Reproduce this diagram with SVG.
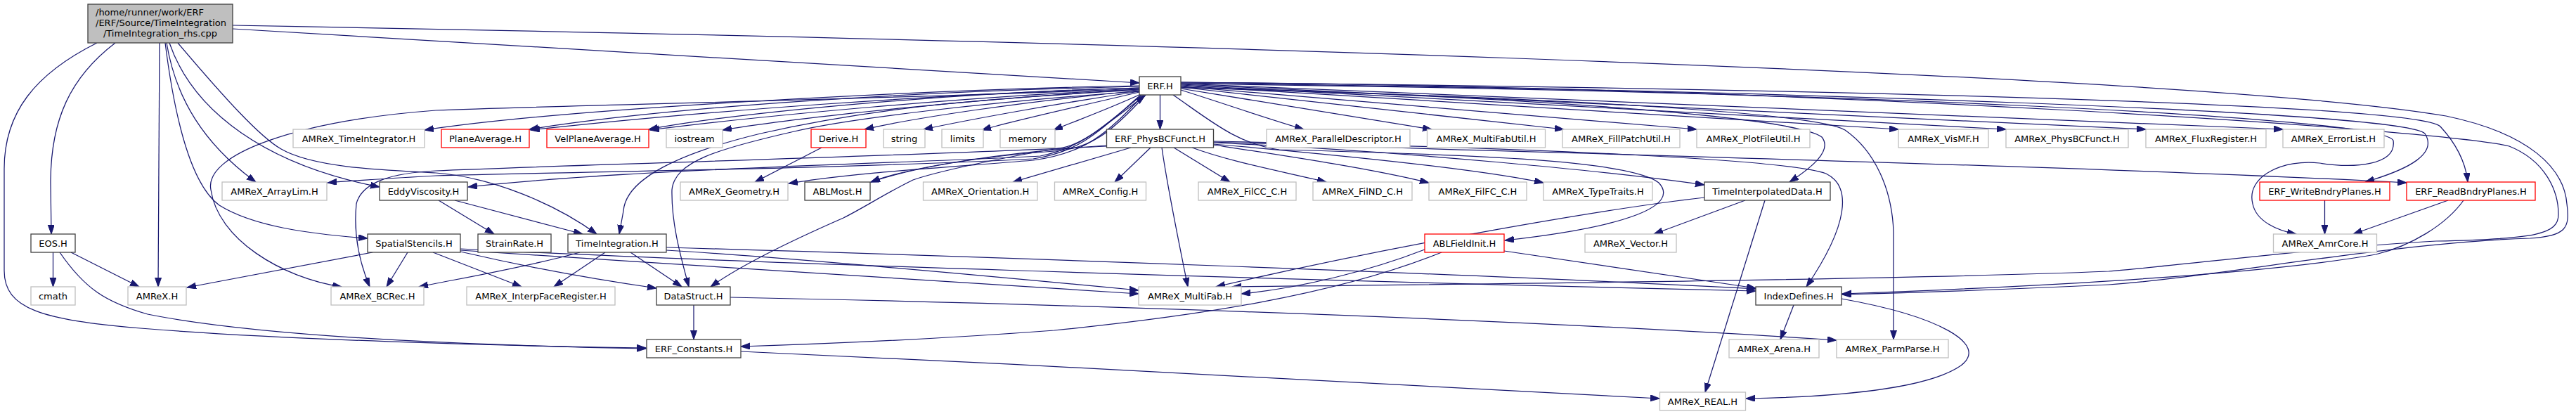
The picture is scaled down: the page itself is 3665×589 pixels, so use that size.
<svg xmlns="http://www.w3.org/2000/svg" width="3665" height="589" viewBox="0 0 3665 589">
<defs>
<style>
.n rect{fill:#ffffff;stroke-width:1.3}
.g rect{stroke:#bfbfbf}
.b rect{stroke:#404040}
.r rect{stroke:#ff0000}
text{font-family:"DejaVu Sans","Liberation Sans",sans-serif;font-size:13px;fill:#000;text-anchor:middle}
#edges path{fill:none;stroke:#191970;stroke-width:1.25;marker-end:url(#ah)}
</style>
<marker id="ah" viewBox="0 0 14 10" markerWidth="14" markerHeight="10" refX="13" refY="4.5" orient="auto" markerUnits="userSpaceOnUse"><path d="M0,0 L13,4.5 L0,9 Z" fill="#191970" stroke="#191970" stroke-width="1"/></marker>
<marker id="ah2" viewBox="0 0 14 10" markerWidth="14" markerHeight="10" refX="13" refY="4.5" orient="auto-start-reverse" markerUnits="userSpaceOnUse"><path d="M0,0 L13,4.5 L0,9 Z" fill="#191970" stroke="#191970" stroke-width="1"/></marker>
</defs>
<rect width="3665" height="589" fill="#ffffff"/>
<g id="edges">
<path d="M331,41 L1621,118"/>
<path d="M331,36 C1400,55 3100,100 3480,165 C3600,190 3648,240 3652,290 C3657,325 3650,336 3600,339 C3400,345 3150,395 3000,405 C2850,412 2700,417 2621,419"/>
<path d="M164,61 C100,110 72,170 72,260 L73,333"/>
<path d="M138,61 C50,105 6,160 6,240 L6,385 C6,440 60,455 200,467 C400,483 700,492 919,495"/>
<path d="M227,61 L225,408"/>
<path d="M237,61 C250,140 290,205 364,259"/>
<path d="M241,61 C275,160 380,235 540,266"/>
<path d="M235,61 C250,180 275,265 312,292 C360,322 440,333 523,339"/>
<path d="M253,61 C320,140 370,195 400,212 C445,238 540,242 620,246 C700,252 790,290 849,333"/>
<path d="M1621,122 C1300,128 800,155 604,185"/>
<path d="M1621,123 C1300,130 950,152 753,184"/>
<path d="M1621,125 C1330,134 1000,158 755,185"/>
<path d="M1621,125 C1350,132 1050,160 923,184"/>
<path d="M1621,127 C1380,137 1080,165 925,185"/>
<path d="M1621,127 C1400,140 1150,165 1028,185"/>
<path d="M1621,129 C1450,145 1300,168 1230,184"/>
<path d="M1621,130 C1500,148 1380,170 1314,184"/>
<path d="M1621,131 C1520,155 1440,172 1397,185"/>
<path d="M1623,134 C1570,158 1530,172 1499,185"/>
<path d="M1650.5,135 L1650.5,184"/>
<path d="M1680,128 C1750,150 1800,168 1855,184"/>
<path d="M1680,126 L2037,184"/>
<path d="M1680,124 L2225,184"/>
<path d="M1680,123 L2414,184"/>
<path d="M1680,122 L2701,184"/>
<path d="M1680,121 L2854,184"/>
<path d="M1680,120 L3053,184"/>
<path d="M1680,119 L3248,184"/>
<path d="M1680,118 C2500,128 3420,158 3450,190 C3468,218 3430,240 3365,259"/>
<path d="M1680,117 C2600,126 3440,148 3472,180 C3495,205 3508,230 3511,259"/>
<path d="M1680,119 C2600,130 3390,165 3405,200 C3410,235 3350,240 3300,232 C3250,226 3195,250 3205,290 C3210,315 3240,328 3267,333"/>
<path d="M1680,117 C2600,124 3480,185 3570,208 C3620,228 3640,270 3640,305 C3640,333 3610,340 3466,343 C3300,352 3100,378 3000,386 C2700,398 2100,404 1753,408"/>
<path d="M1680,124 C2200,138 2560,168 2592,195 C2608,215 2575,240 2546,259"/>
<path d="M1680,125 C2200,138 2585,160 2625,185 C2668,215 2692,270 2694,330 L2694,483"/>
<path d="M1669,135 C1720,170 1760,205 1820,213 C2100,220 2320,228 2360,260 C2390,292 2320,322 2141,342"/>
<path d="M1621,128 C1400,140 1250,152 1082,190 C950,222 890,260 887,300 L881,333"/>
<path d="M1621,130 C1400,145 1200,170 1130,187 C1020,212 960,230 956,270 C955,320 970,370 980,408"/>
<path d="M1621,126 C1300,140 800,150 620,157 C420,172 290,220 300,270 C310,340 400,395 486,408"/>
<path d="M1625,135 C1570,180 1540,210 1480,222 C1300,232 900,240 666,266"/>
<path d="M1623,135 C1565,185 1540,215 1470,226 C1200,240 800,245 620,250 C550,254 500,257 466,260"/>
<path d="M1627,135 C1575,190 1545,218 1470,228 C1350,238 1220,245 1122,261"/>
<path d="M1630,135 C1580,190 1550,212 1500,215 C1400,222 1300,238 1239,259"/>
<path d="M1629,136 C1570,180 1540,205 1512,210 C1420,225 1330,245 1299,256 C1260,275 1230,295 1200,310 C1120,345 1050,380 1011,408" style="marker-start:url(#ah2)"/>
<path d="M1609,210 L1441,259"/>
<path d="M1637,210 L1586,259"/>
<path d="M1653,210 C1660,260 1672,320 1690,408"/>
<path d="M1670,210 L1750,259"/>
<path d="M1696,210 C1750,230 1820,243 1887,259"/>
<path d="M1726,206 C1850,225 1950,240 2033,260"/>
<path d="M1726,205 C1900,220 2100,240 2196,260"/>
<path d="M1726,203 C2000,215 2300,245 2425,263"/>
<path d="M1726,202 C2200,218 3000,237 3424,260"/>
<path d="M1726,201 C2200,210 2550,228 2598,247 C2635,265 2630,320 2570,408"/>
<path d="M1575,208 C1300,222 800,235 620,243 C560,246 515,258 507,290 C503,330 510,370 526,408"/>
<path d="M1575,207 C1450,215 1300,235 1239,259"/>
<path d="M825,359 C750,380 650,397 596,408"/>
<path d="M861,359 L788,408"/>
<path d="M897,359 L970,408"/>
<path d="M948,352 C1400,365 2100,390 2498,411"/>
<path d="M948,356 C1100,365 1400,392 1620,413"/>
<path d="M530,359 L266,409"/>
<path d="M580,359 L550,408"/>
<path d="M616,359 L742,408"/>
<path d="M655,358 C750,380 850,398 934,410"/>
<path d="M655,354 C1000,372 1800,398 2498,414"/>
<path d="M655,356 C1000,378 1400,405 1620,418"/>
<path d="M624,285 L703,333"/>
<path d="M647,285 L829,333"/>
<path d="M987,434 L987,483"/>
<path d="M1039,423 C1400,430 2100,450 2613,484"/>
<path d="M1054,500 C1500,520 2000,547 2361,567"/>
<path d="M75.5,359 L75.5,408"/>
<path d="M101,359 L198,408"/>
<path d="M85,359 C120,410 150,430 210,447 C350,475 600,490 919,496"/>
<path d="M1169,210 L1074,259"/>
<path d="M2483,285 L2353,333"/>
<path d="M2511,285 L2426,558"/>
<path d="M2425,281 C2300,295 2000,345 1730,408"/>
<path d="M2051,359 C1900,420 1700,450 1500,470 C1300,485 1150,490 1054,493"/>
<path d="M2027,355 C1950,385 1850,410 1766,418"/>
<path d="M2140,357 C2300,380 2420,398 2498,410"/>
<path d="M2552,434 L2533,483"/>
<path d="M2620,425 C2760,450 2830,490 2790,520 C2740,555 2600,565 2484,567"/>
<path d="M3307.5,285 L3307.5,333"/>
<path d="M3483,285 L3348,333"/>
<path d="M3505,285 C3480,320 3430,350 3380,362 C3250,385 3000,404 2621,418"/>
</g>
<g id="root"><rect x="125" y="6" width="206" height="55" fill="#bfbfbf" stroke="#404040" stroke-width="1.3"/><text x="136" y="22" style="text-anchor:start">/home/runner/work/ERF</text><text x="136" y="37" style="text-anchor:start">/ERF/Source/TimeIntegration</text><text x="228" y="51.5">/TimeIntegration_rhs.cpp</text></g>
<g id="erf" class="n b"><rect x="1621" y="109" width="59" height="26"/><text x="1650.5" y="126.7">ERF.H</text></g>
<g id="ti" class="n g"><rect x="417" y="184" width="187" height="26"/><text x="510.5" y="201.7">AMReX_TimeIntegrator.H</text></g>
<g id="pa" class="n r"><rect x="628" y="184" width="125" height="26"/><text x="690.5" y="201.7">PlaneAverage.H</text></g>
<g id="vpa" class="n r"><rect x="778" y="184" width="145" height="26"/><text x="850.5" y="201.7">VelPlaneAverage.H</text></g>
<g id="ios" class="n g"><rect x="948" y="184" width="80" height="26"/><text x="988" y="201.7">iostream</text></g>
<g id="der" class="n r"><rect x="1154" y="184" width="78" height="26"/><text x="1193" y="201.7">Derive.H</text></g>
<g id="str" class="n g"><rect x="1257" y="184" width="59" height="26"/><text x="1286.5" y="201.7">string</text></g>
<g id="lim" class="n g"><rect x="1340" y="184" width="59" height="26"/><text x="1369.5" y="201.7">limits</text></g>
<g id="mem" class="n g"><rect x="1423" y="184" width="78" height="26"/><text x="1462" y="201.7">memory</text></g>
<g id="pbc" class="n b"><rect x="1574.5" y="184" width="152" height="26"/><text x="1650.5" y="201.7">ERF_PhysBCFunct.H</text></g>
<g id="pd" class="n g"><rect x="1802" y="184" width="204" height="26"/><text x="1904" y="201.7">AMReX_ParallelDescriptor.H</text></g>
<g id="mfu" class="n g"><rect x="2030.5" y="184" width="168" height="26"/><text x="2114.5" y="201.7">AMReX_MultiFabUtil.H</text></g>
<g id="fpu" class="n g"><rect x="2223" y="184" width="167" height="26"/><text x="2306.5" y="201.7">AMReX_FillPatchUtil.H</text></g>
<g id="pfu" class="n g"><rect x="2414" y="184" width="161" height="26"/><text x="2494.5" y="201.7">AMReX_PlotFileUtil.H</text></g>
<g id="vis" class="n g"><rect x="2701" y="184" width="128" height="26"/><text x="2765" y="201.7">AMReX_VisMF.H</text></g>
<g id="apbc" class="n g"><rect x="2854" y="184" width="174" height="26"/><text x="2941" y="201.7">AMReX_PhysBCFunct.H</text></g>
<g id="fr" class="n g"><rect x="3053" y="184" width="171" height="26"/><text x="3138.5" y="201.7">AMReX_FluxRegister.H</text></g>
<g id="el" class="n g"><rect x="3248" y="184" width="144" height="26"/><text x="3320" y="201.7">AMReX_ErrorList.H</text></g>
<g id="al" class="n g"><rect x="316" y="259" width="149" height="26"/><text x="390.5" y="276.7">AMReX_ArrayLim.H</text></g>
<g id="ev" class="n b"><rect x="540" y="259" width="125" height="26"/><text x="602.5" y="276.7">EddyViscosity.H</text></g>
<g id="geo" class="n g"><rect x="968" y="259" width="153" height="26"/><text x="1044.5" y="276.7">AMReX_Geometry.H</text></g>
<g id="abl" class="n b"><rect x="1145" y="259" width="93" height="26"/><text x="1191.5" y="276.7">ABLMost.H</text></g>
<g id="ori" class="n g"><rect x="1313.5" y="259" width="162.5" height="26"/><text x="1394.75" y="276.7">AMReX_Orientation.H</text></g>
<g id="cfg" class="n g"><rect x="1500.5" y="259" width="130" height="26"/><text x="1565.5" y="276.7">AMReX_Config.H</text></g>
<g id="fcc" class="n g"><rect x="1705" y="259" width="139" height="26"/><text x="1774.5" y="276.7">AMReX_FilCC_C.H</text></g>
<g id="fnd" class="n g"><rect x="1868" y="259" width="141" height="26"/><text x="1938.5" y="276.7">AMReX_FilND_C.H</text></g>
<g id="ffc" class="n g"><rect x="2033" y="259" width="139" height="26"/><text x="2102.5" y="276.7">AMReX_FilFC_C.H</text></g>
<g id="tt" class="n g"><rect x="2196" y="259" width="155" height="26"/><text x="2273.5" y="276.7">AMReX_TypeTraits.H</text></g>
<g id="tid" class="n b"><rect x="2425" y="259" width="179" height="26"/><text x="2514.5" y="276.7">TimeInterpolatedData.H</text></g>
<g id="wbp" class="n r"><rect x="3215" y="259" width="185" height="26"/><text x="3307.5" y="276.7">ERF_WriteBndryPlanes.H</text></g>
<g id="rbp" class="n r"><rect x="3424" y="259" width="183" height="26"/><text x="3515.5" y="276.7">ERF_ReadBndryPlanes.H</text></g>
<g id="eos" class="n b"><rect x="44" y="333" width="63" height="26"/><text x="75.5" y="350.7">EOS.H</text></g>
<g id="ss" class="n b"><rect x="523" y="333" width="132" height="26"/><text x="589" y="350.7">SpatialStencils.H</text></g>
<g id="sr" class="n b"><rect x="680" y="333" width="104" height="26"/><text x="732" y="350.7">StrainRate.H</text></g>
<g id="tint" class="n b"><rect x="808" y="333" width="140" height="26"/><text x="878" y="350.7">TimeIntegration.H</text></g>
<g id="abfi" class="n r"><rect x="2027" y="333" width="113" height="26"/><text x="2083.5" y="350.7">ABLFieldInit.H</text></g>
<g id="vec" class="n g"><rect x="2255" y="333" width="130" height="26"/><text x="2320" y="350.7">AMReX_Vector.H</text></g>
<g id="amr" class="n g"><rect x="3234.5" y="333" width="147" height="26"/><text x="3308" y="350.7">AMReX_AmrCore.H</text></g>
<g id="cmath" class="n g"><rect x="44" y="408" width="63" height="26"/><text x="75.5" y="425.7">cmath</text></g>
<g id="amrex" class="n g"><rect x="182" y="408" width="83" height="26"/><text x="223.5" y="425.7">AMReX.H</text></g>
<g id="bcrec" class="n g"><rect x="471" y="408" width="132" height="26"/><text x="537" y="425.7">AMReX_BCRec.H</text></g>
<g id="ifr" class="n g"><rect x="664" y="408" width="211" height="26"/><text x="769.5" y="425.7">AMReX_InterpFaceRegister.H</text></g>
<g id="ds" class="n b"><rect x="934" y="408" width="105" height="26"/><text x="986.5" y="425.7">DataStruct.H</text></g>
<g id="mf" class="n g"><rect x="1620" y="408" width="146" height="26"/><text x="1693" y="425.7">AMReX_MultiFab.H</text></g>
<g id="idx" class="n b"><rect x="2498" y="408" width="122" height="26"/><text x="2559" y="425.7">IndexDefines.H</text></g>
<g id="ec" class="n b"><rect x="920" y="483" width="134" height="26"/><text x="987" y="500.7">ERF_Constants.H</text></g>
<g id="arena" class="n g"><rect x="2460" y="483" width="128" height="26"/><text x="2524" y="500.7">AMReX_Arena.H</text></g>
<g id="pp" class="n g"><rect x="2613" y="483" width="159" height="26"/><text x="2692.5" y="500.7">AMReX_ParmParse.H</text></g>
<g id="real" class="n g"><rect x="2361.5" y="558" width="122" height="26"/><text x="2422.5" y="575.7">AMReX_REAL.H</text></g>
</svg>
